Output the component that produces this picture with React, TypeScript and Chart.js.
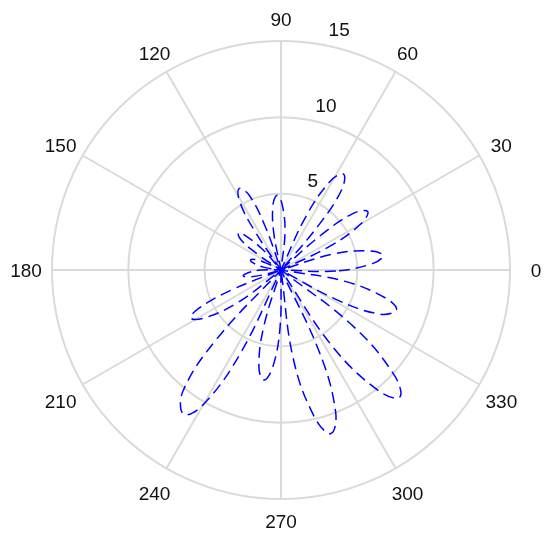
import { useEffect, useRef } from "react";
import { Chart, registerables } from "chart.js";

Chart.register(...registerables);

// Theta tick labels (degrees, counter-clockwise from 0 at the right)
const thetaTickAngles = [0, 30, 60, 90, 120, 150, 180, 210, 240, 270, 300, 330];
const thetaTickLabels = ["0", "30", "60", "90", "120", "150", "180", "210", "240", "270", "300", "330"];

// Radial ticks
const rTickValues = [5, 10, 15];
const rTickLabels = ["5", "10", "15"];
const rMax = 15;
const rAxisAngle = 80;

// Curve samples: angle (deg) and radius
const theta = [
  355, 359, 4, 8, 12, 17, 21,
  22, 26, 30, 34, 38, 41, 45,
  46, 50, 53, 57, 61, 65, 69,
  80, 84, 89, 93, 97, 101, 105,
  106, 110, 113, 117, 121, 124, 128,
  129, 132, 136, 139, 143, 146, 150,
  151, 155, 158, 162, 166, 171, 175,
  176, 180, 185, 189, 192, 195, 198,
  199, 202, 205, 208, 212, 217, 221,
  222, 227, 231, 236, 240, 244, 248,
  249, 253, 257, 261, 265, 269, 273,
  274, 278, 283, 287, 291, 295, 299,
  300, 304, 309, 313, 317, 322, 326,
  327, 332, 336, 341, 345, 350, 354,
];
const rho = [
  0, 3.6, 6.0, 6.75, 6.0, 3.6, 0,
  0, 3.6, 6.05, 6.85, 6.05, 3.6, 0,
  0, 3.9, 6.65, 7.5, 6.65, 3.9, 0,
  0, 2.5, 4.3, 4.9, 4.3, 2.5, 0,
  0, 3.1, 5.3, 6.0, 5.3, 3.1, 0,
  0, 1.9, 3.25, 3.7, 3.25, 1.9, 0,
  0, 1.1, 1.85, 2.1, 1.85, 1.1, 0,
  0, 1.3, 2.2, 2.5, 2.2, 1.3, 0,
  0, 3.5, 5.95, 6.7, 5.95, 3.5, 0,
  0, 6.1, 10.2, 11.4, 10.2, 6.1, 0,
  0, 3.8, 6.45, 7.3, 6.45, 3.8, 0,
  0, 6.0, 10.0, 11.2, 10.0, 6.0, 0,
  0, 6.1, 10.2, 11.4, 10.2, 6.1, 0,
  0, 4.2, 7.1, 8.0, 7.1, 4.2, 0,
];

const N = 360;
const GRID = "#dadada";
const TEXT = "#111111";
const FONT = '19px "Liberation Sans", Arial, sans-serif';

function angleToIndex(a: number) {
  return (((360 - a) % 360) + 360) % 360;
}

const labelPlugin = {
  id: "polarLabels",
  afterDraw(chart: any) {
    const s = chart.scales.r;
    const ctx = chart.ctx;
    const R = s.drawingArea;
    ctx.save();
    ctx.font = FONT;
    ctx.fillStyle = TEXT;
    ctx.textAlign = "center";
    ctx.textBaseline = "middle";
    thetaTickAngles.forEach((a, k) => {
      const rad = (a * Math.PI) / 180;
      const c = Math.abs(Math.cos(rad));
      const sn = Math.sin(rad);
      const p = s.getPointPosition(angleToIndex(a), R + 22 + 4 * c);
      let dy = 2;
      if (c > 0.01 && sn < -0.01) dy += 4;
      else if (c > 0.01 && c < 0.99 && sn > 0.01) dy += 1.5;
      ctx.fillText(thetaTickLabels[k], p.x, p.y + dy);
    });
    const idx = angleToIndex(rAxisAngle);
    rTickValues.forEach((v, k) => {
      const d = s.getDistanceFromCenterForValue(v);
      const p = s.getPointPosition(idx, d + 18);
      const ox = -Math.sin(p.angle) * 14;
      const oy = Math.cos(p.angle) * 14;
      ctx.fillText(rTickLabels[k], p.x + ox + 1.5, p.y + oy + 2);
    });
    ctx.restore();
  },
};

export default function App() {
  const ref = useRef<HTMLCanvasElement>(null);
  useEffect(() => {
    document.body.style.margin = "0";
    const labels = Array.from({ length: N }, (_, i) => String((360 - i) % 360));
    const data: (number | null)[] = new Array(N).fill(null);
    theta.forEach((a, k) => {
      data[angleToIndex(a)] = rho[k];
    });
    const chart = new Chart(ref.current as HTMLCanvasElement, {
      type: "radar",
      data: {
        labels,
        datasets: [
          {
            data,
            borderColor: "#0000ff",
            backgroundColor: "transparent",
            borderWidth: 1.5,
            borderDash: [11, 6],
            fill: false,
            pointRadius: 0,
            pointHoverRadius: 0,
            pointHitRadius: 0,
            tension: 0.4,
            spanGaps: true,
          } as any,
        ],
      },
      options: {
        animation: false,
        responsive: false,
        maintainAspectRatio: false,
        events: [],
        layout: { padding: { left: 52, right: 40, top: 41, bottom: 45 } },
        plugins: { legend: { display: false }, tooltip: { enabled: false } },
        scales: {
          r: {
            min: 0,
            max: rMax,
            startAngle: 90,
            ticks: { display: false, stepSize: 5 },
            pointLabels: { display: false },
            grid: { circular: true, color: GRID, lineWidth: 2 },
            angleLines: {
              display: true,
              color: GRID,
              lineWidth: (c: any) => (c.index % 30 === 0 ? 2 : 0),
            },
          } as any,
        },
      },
      plugins: [labelPlugin],
    });
    return () => chart.destroy();
  }, []);
  return (
    <div style={{ position: "absolute", left: 0, top: 0, width: 550, height: 545 }}>
      <canvas ref={ref} width={550} height={545} style={{ display: "block" }} />
    </div>
  );
}
